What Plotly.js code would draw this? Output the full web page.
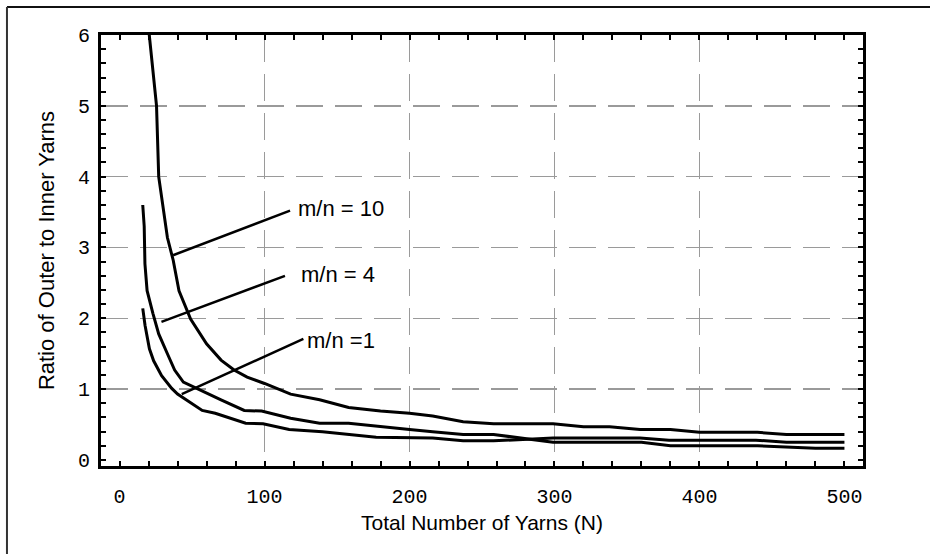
<!DOCTYPE html>
<html>
<head>
<meta charset="utf-8">
<script src="https://cdn.plot.ly/plotly-3.0.1.min.js"></script>
<style>html,body{margin:0;padding:0;background:#fff;}#chart{width:930px;height:554px;}</style>
</head>
<body>
<div id="chart"></div>
<script>
// m/n = 10
const N10 = [20, 25.5, 27, 30, 33, 37, 41, 49, 60, 70, 79, 88, 100, 118, 138, 158, 180, 200, 216, 237, 258, 299, 320, 338, 359, 380, 400, 440, 460, 500];
const R10 = [6.1, 5.0, 4.0, 3.57, 3.14, 2.82, 2.39, 1.99, 1.64, 1.41, 1.27, 1.17, 1.08, 0.93, 0.85, 0.74, 0.69, 0.66, 0.62, 0.54, 0.51, 0.51, 0.47, 0.47, 0.43, 0.43, 0.39, 0.39, 0.36, 0.36];
// m/n = 4
const N4 = [16, 17, 17.5, 19, 23, 27, 33, 38, 44, 60, 70, 86, 98, 118, 138, 158, 180, 200, 216, 237, 258, 299, 360, 380, 440, 480, 500];
const R4 = [3.6, 3.3, 2.77, 2.39, 2.07, 1.78, 1.5, 1.27, 1.1, 0.94, 0.85, 0.70, 0.69, 0.59, 0.52, 0.52, 0.47, 0.43, 0.40, 0.36, 0.36, 0.25, 0.25, 0.20, 0.20, 0.165, 0.165];
// m/n = 1
const N1 = [16, 17.6, 20.6, 23.5, 29, 36, 40, 57, 66, 87, 99, 117, 140, 177, 216, 237, 258, 299, 359, 379, 439, 460, 500];
const R1 = [2.14, 1.9, 1.57, 1.40, 1.19, 1.01, 0.93, 0.70, 0.66, 0.52, 0.51, 0.43, 0.40, 0.32, 0.31, 0.27, 0.27, 0.31, 0.31, 0.28, 0.28, 0.25, 0.25];

const xTicks = [0, 100, 200, 300, 400, 500];
const yTicks = [0, 1, 2, 3, 4, 5, 6];
const xGrid = [100, 200, 300, 400];
const yGrid = [1, 2, 3, 4, 5];
const labels = ['m/n = 10', 'm/n = 4', 'm/n =1'];

const XR = [-12.8, 512.8];
const YR = [-0.085, 6.0];

const lineStyle = {color: '#000', width: 3};
const traces = [
  {x: N10, y: R10, mode: 'lines', line: lineStyle, hoverinfo: 'skip', showlegend: false},
  {x: N4, y: R4, mode: 'lines', line: lineStyle, hoverinfo: 'skip', showlegend: false},
  {x: N1, y: R1, mode: 'lines', line: lineStyle, hoverinfo: 'skip', showlegend: false},
  {x: [], y: [], xaxis: 'x2', yaxis: 'y2', mode: 'lines', hoverinfo: 'skip', showlegend: false}
];

const tickFont = {family: 'Liberation Mono, monospace', size: 20, color: '#000'};
const xTitleFont = {family: 'Liberation Sans, Arial, sans-serif', size: 21, color: '#000'};
const yTitleFont = {family: 'Liberation Sans, Arial, sans-serif', size: 22, color: '#000'};
const annFont = {family: 'Liberation Sans, Arial, sans-serif', size: 22, color: '#000'};

const layout = {
  width: 930, height: 554,
  margin: {l: 101, r: 67, t: 35, b: 88, pad: 0},
  paper_bgcolor: '#fff', plot_bgcolor: 'rgba(0,0,0,0)',
  showlegend: false,
  xaxis: {
    range: XR, tickmode: 'array', tickvals: xTicks, ticktext: xTicks.map(String),
    showgrid: false, zeroline: false,
    showline: true, linecolor: '#000', linewidth: 3, mirror: 'allticks',
    ticks: 'inside', ticklen: 5, tickwidth: 2, tickcolor: '#000',
    minor: {dtick: 20, tick0: 0, ticks: 'inside', ticklen: 5, tickwidth: 2, tickcolor: '#000', showgrid: false},
    tickfont: tickFont, ticklabelstandoff: 10,
    title: {text: 'Total Number of Yarns (N)', font: xTitleFont, standoff: 8},
    automargin: false, fixedrange: true
  },
  yaxis: {
    range: YR, tickmode: 'array', tickvals: yTicks, ticktext: yTicks.map(String),
    showgrid: false, zeroline: false,
    showline: true, linecolor: '#000', linewidth: 3, mirror: 'allticks',
    ticks: 'inside', ticklen: 5, tickwidth: 2, tickcolor: '#000',
    minor: {dtick: 0.2, tick0: 0, ticks: 'inside', ticklen: 5, tickwidth: 2, tickcolor: '#000', showgrid: false},
    tickfont: tickFont, ticklabelstandoff: 4,
    title: {text: 'Ratio of Outer to Inner Yarns', font: yTitleFont, standoff: 18},
    automargin: false, fixedrange: true
  },
  xaxis2: {
    overlaying: 'x', anchor: 'y2', range: XR, tickmode: 'array', tickvals: xGrid,
    showticklabels: false, ticks: '', showline: false, zeroline: false,
    showgrid: true, gridcolor: '#9a9a9a', gridwidth: 1.3, griddash: '27px,12px', fixedrange: true
  },
  yaxis2: {
    overlaying: 'y', anchor: 'x2', range: YR, tickmode: 'array', tickvals: yGrid,
    showticklabels: false, ticks: '', showline: false, zeroline: false,
    showgrid: true, gridcolor: '#9a9a9a', gridwidth: 1.5, griddash: '27px,12px', fixedrange: true
  },
  shapes: [
    // leader lines
    {type: 'line', xref: 'x', yref: 'y', x0: 36.9, y0: 2.89, x1: 117.6, y1: 3.52, line: {color: '#000', width: 2.5}},
    {type: 'line', xref: 'x', yref: 'y', x0: 28.9, y0: 1.95, x1: 114.1, y1: 2.60, line: {color: '#000', width: 2.5}},
    {type: 'line', xref: 'x', yref: 'y', x0: 42.9, y0: 0.93, x1: 126.8, y1: 1.71, line: {color: '#000', width: 2.5}},
    // outer frame (left and top)
    {type: 'line', xref: 'paper', yref: 'paper', x0: -0.1234, y0: 1.065, x1: 1.1, y1: 1.065, line: {color: '#111', width: 2}},
    {type: 'line', xref: 'paper', yref: 'paper', x0: -0.1234, y0: 1.065, x1: -0.1234, y1: -0.25, line: {color: '#333', width: 2}}
  ],
  annotations: [
    {x: 121.5, y: 3.55, xref: 'x', yref: 'y', text: labels[0], showarrow: false, xanchor: 'left', yanchor: 'middle', font: annFont},
    {x: 123.5, y: 2.62, xref: 'x', yref: 'y', text: labels[1], showarrow: false, xanchor: 'left', yanchor: 'middle', font: annFont},
    {x: 128.0, y: 1.69, xref: 'x', yref: 'y', text: labels[2], showarrow: false, xanchor: 'left', yanchor: 'middle', font: annFont}
  ]
};

Plotly.newPlot('chart', traces, layout, {staticPlot: true, displayModeBar: false});
</script>
</body>
</html>
